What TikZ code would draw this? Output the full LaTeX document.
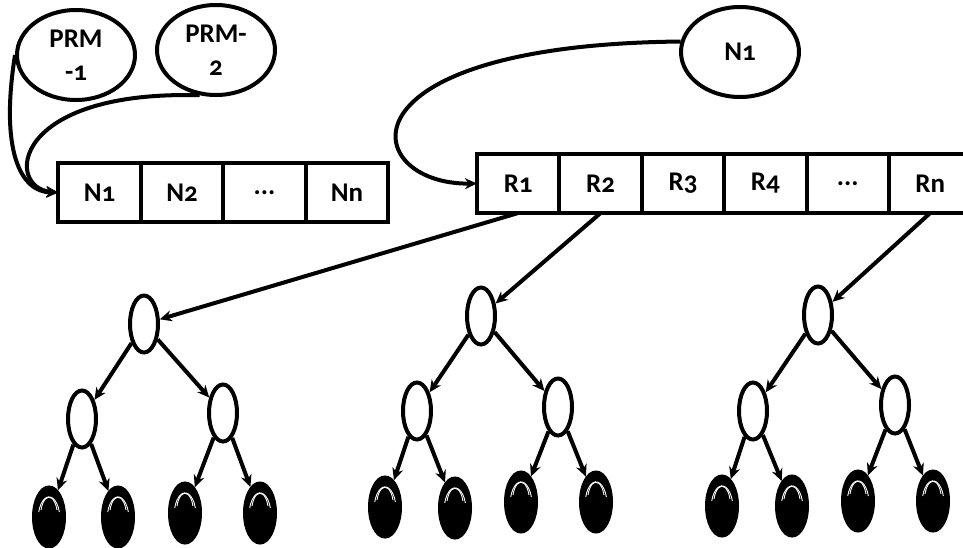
\documentclass[tikz,border=0pt]{standalone}
\usepackage{fontspec}
\setmainfont{Carlito}[Numbers=OldStyle]
\usetikzlibrary{shapes.geometric,arrows.meta,calc}
\begin{document}
\begin{tikzpicture}[x=1pt,y=-1pt,
  lw/.style={line width=4pt},
  big/.style={ellipse,draw,lw,minimum width=118pt,minimum height=90pt,inner sep=0pt,
    font=\bfseries\fontsize{27}{33}\selectfont,align=center},
  cell/.style={rectangle,draw,lw,minimum width=82.5pt,minimum height=59pt,inner sep=0pt,
    outer sep=0pt,font=\bfseries\fontsize{27}{28}\selectfont},
  inode/.style={ellipse,draw,lw,fill=white,minimum width=28pt,minimum height=57pt,inner sep=0pt},
  leaf/.style={ellipse,draw,lw,fill=black,minimum width=30pt,minimum height=59pt,inner sep=0pt},
  link/.style={lw,-{Stealth[length=12pt,width=11pt]}},
  shine/.style={white,line width=0.9pt}
]
\useasboundingbox (0,0) rectangle (963,547);
\clip (0,0) rectangle (963,547);

% parameter-range models
\node[big] (p1) at (76,55) {PRM\\-1};
\node[big] (p2) at (216,50) {PRM-\\2};
\node[big] (nn) at (740,52) {N1};

% node array
\node[cell] (n1) at (99.5,192.5) {N1};
\node[cell] (n2) at (182,192.5) {N2};
\node[cell] (n3) at (264.5,192.5) {...};
\node[cell] (n4) at (347,192.5) {Nn};

% range array
\node[cell] (r1) at (518.2,183.5) {R1};
\node[cell] (r2) at (600.6,183.5) {R2};
\node[cell] (r3) at (683,183.5) {R3};
\node[cell] (r4) at (765.4,183.5) {R4};
\node[cell] (r5) at (847.8,183.5) {...};
\node[cell] (r6) at (930.2,183.5) {Rn};

% trees
\node[inode] (t1r) at (144,324) {};
\node[inode] (t1a) at (82,419) {};
\node[inode] (t1b) at (223,413) {};
\node[leaf] (t1l1) at (49,517) {};
\node[leaf] (t1l2) at (118,517) {};
\node[leaf] (t1l3) at (185,513) {};
\node[leaf] (t1l4) at (260,513) {};

\node[inode] (t2r) at (481,316) {};
\node[inode] (t2a) at (417,411) {};
\node[inode] (t2b) at (558,407) {};
\node[leaf] (t2l1) at (385,507) {};
\node[leaf] (t2l2) at (455,508) {};
\node[leaf] (t2l3) at (521,502) {};
\node[leaf] (t2l4) at (596,502) {};

\node[inode] (t3r) at (818,315) {};
\node[inode] (t3a) at (753,411) {};
\node[inode] (t3b) at (895,405) {};
\node[leaf] (t3l1) at (722,506) {};
\node[leaf] (t3l2) at (792,506) {};
\node[leaf] (t3l3) at (858,501) {};
\node[leaf] (t3l4) at (933,501) {};

% glossy highlights on the leaves
\foreach \t in {1,2,3}{
  \foreach \l in {1,2,3,4}{
    \draw[shine] ($(t\t l\l.center)+(-10.3,-5)$) arc[start angle=-160,end angle=-20,x radius=11,y radius=23];
    \draw[shine] ($(t\t l\l.center)+(-8,-7)$) arc[start angle=-160,end angle=-20,x radius=8.5,y radius=19.5];
  }
}

% curved links into the arrays
\draw[link] (p1.west) .. controls (0,150) and (20,192) .. (n1.west);
\draw[link] (p2.250) .. controls (10,90) and (5,188) .. (n1.west);
\draw[link] (nn.170) .. controls (330,45) and (360,185) .. (r1.west);

% ranges to tree roots
\draw[link] (r1.south) -- (t1r);
\draw[link] (r2.south) -- (t2r);
\draw[link] (r6.south) -- (t3r);

% tree edges
\foreach \t in {1,2,3}{
  \draw[link] (t\t r) -- (t\t a);
  \draw[link] (t\t r) -- (t\t b);
  \draw[link] (t\t a) -- (t\t l1);
  \draw[link] (t\t a) -- (t\t l2);
  \draw[link] (t\t b) -- (t\t l3);
  \draw[link] (t\t b) -- (t\t l4);
}
\end{tikzpicture}
\end{document}
